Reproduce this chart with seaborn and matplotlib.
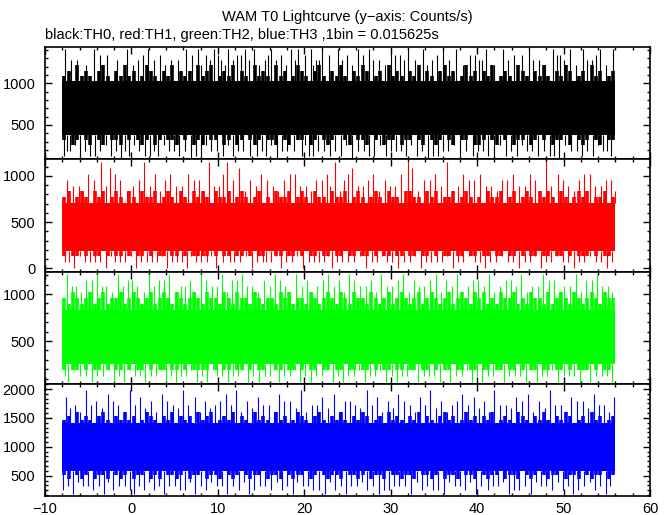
import pandas as pd
import matplotlib
matplotlib.use("Agg")
import matplotlib.pyplot as plt
import seaborn as sns
from matplotlib.ticker import MultipleLocator, AutoMinorLocator

# WAM T0 lightcurve, values are counts per bin (1 bin = 1/64 s)
bin_size = 0.015625
t_start = -8.0
step = 0.5  # dense band edges are listed every 0.5 s

# TH0 (black)
th0_hi = [17, 18, 16, 19, 17, 18, 17, 16, 18, 19, 17, 16, 18, 17, 19, 17,
          18, 16, 17, 19, 18, 17, 16, 18, 17, 19, 16, 18, 17, 18, 16, 19,
          17, 18, 19, 16, 17, 18, 17, 19, 16, 18, 17, 16, 19, 17, 18, 17,
          16, 19, 17, 18, 16, 17, 19, 18, 17, 16, 18, 19, 17, 16, 18, 17,
          19, 17, 16, 18, 17, 19, 18, 16, 17, 18, 16, 19, 17, 18, 17, 16,
          18, 17, 19, 16, 18, 17, 16, 18, 19, 17, 18, 16, 17, 19, 17, 18,
          16, 18, 17, 19, 16, 17, 18, 17, 16, 19, 18, 17, 16, 18, 17, 19,
          17, 16, 18, 17, 19, 18, 16, 17, 18, 16, 19, 17, 18, 16, 17, 18]
th0_lo = [5, 6, 4, 5, 6, 5, 4, 6, 5, 4, 6, 5, 5, 4, 6, 5,
          6, 5, 4, 5, 6, 4, 5, 6, 5, 5, 4, 6, 5, 6, 4, 5,
          4, 6, 5, 5, 6, 4, 5, 6, 4, 5, 6, 5, 4, 5, 6, 5,
          5, 4, 6, 5, 4, 6, 5, 5, 6, 4, 5, 6, 5, 4, 5, 6,
          6, 5, 4, 6, 5, 5, 4, 6, 5, 6, 4, 5, 5, 6, 4, 5,
          5, 6, 5, 4, 6, 5, 4, 5, 6, 5, 4, 6, 5, 5, 6, 4,
          4, 5, 6, 5, 4, 6, 5, 6, 4, 5, 5, 6, 4, 5, 6, 5,
          6, 4, 5, 5, 6, 4, 6, 5, 4, 5, 6, 5, 4, 6, 5, 5]
th0_up_t = [-7.65, -6.3, -4.35, -2.8, -0.5, 0.8, 1.9, 3.3, 4.6, 6.35, 7.7, 8.6, 9.55,
            10.4, 11.2, 12.2, 13.1, 14.2, 15.4, 16.2, 17.3, 18.5, 19.3, 20.8, 21.3, 22.0,
            23.9, 24.9, 26.2, 27.5, 28.6, 30.0, 31.1, 32.0, 33.7, 34.8, 36.0, 37.6, 39.2,
            40.2, 41.0, 43.0, 44.3, 46.0, 47.1, 48.8, 49.6, 50.7, 52.2, 53.3, 54.2, 55.7,
            -7.0, -5.3, -3.6, -1.7, 0.2, 1.3, 2.6, 3.9, 5.4, 7.0, 8.1, 9.1, 10.0,
            10.8, 11.7, 12.7, 13.6, 14.8, 15.8, 16.7, 17.9, 18.9, 20.1, 21.0, 21.7, 22.9,
            24.4, 25.5, 26.8, 28.0, 29.3, 30.5, 31.5, 32.8, 34.2, 35.4, 36.8, 38.4, 39.7,
            40.6, 42.0, 43.6, 45.2, 46.5, 47.9, 49.2, 50.1, 51.4, 52.7, 53.8, 54.9]
th0_up = [22, 20, 22, 21, 22, 20, 22, 21, 20, 22, 22, 21, 22,
          20, 22, 21, 22, 22, 20, 22, 21, 22, 22, 22, 20, 22,
          22, 21, 22, 22, 20, 22, 21, 22, 22, 20, 22, 22, 21,
          20, 22, 22, 21, 22, 20, 22, 21, 22, 22, 20, 22, 22,
          20, 19, 21, 20, 19, 21, 20, 19, 20, 21, 19, 20, 21,
          19, 20, 21, 20, 19, 21, 20, 19, 20, 21, 19, 20, 21,
          20, 19, 21, 20, 19, 21, 20, 20, 19, 21, 20, 19, 21,
          20, 19, 20, 21, 20, 19, 21, 20, 19, 20, 21, 19]
th0_dn_t = [-7.8, -7.1, -5.9, -4.8, -3.6, -2.4, -1.2, -0.3, 0.9, 2.2, 3.1, 4.4, 5.5,
            6.9, 8.1, 9.2, 10.6, 11.8, 12.9, 14.5, 15.6, 16.8, 18.0, 19.7, 20.5, 21.6,
            23.0, 24.2, 25.5, 26.9, 28.1, 29.4, 30.6, 31.8, 33.0, 34.3, 35.5, 36.6, 38.0,
            39.5, 40.7, 41.9, 43.3, 44.6, 45.8, 47.0, 48.4, 49.5, 50.9, 52.1, 53.4, 54.6, 55.5,
            -7.45, -6.5, -5.35, -4.2, -3.0, -1.8, -0.75, 0.3, 1.55, 2.65, 3.75, 4.95, 6.2,
            7.5, 8.65, 9.9, 11.2, 12.35, 13.7, 15.05, 16.2, 17.4, 18.85, 20.1, 21.05, 22.3,
            23.6, 24.85, 26.2, 27.5, 28.75, 30.0, 31.2, 32.4, 33.65, 34.9, 36.05, 37.3, 38.75,
            40.1, 41.3, 42.6, 43.95, 45.2, 46.4, 47.7, 48.95, 50.2, 51.5, 52.75, 54.0, 55.05]
th0_dn = [2, 3, 2, 2, 3, 2, 1, 2, 3, 2, 2, 3, 2, 1, 2, 3, 2, 2, 3, 2,
          2, 1, 3, 2, 2, 3, 2, 2, 1, 3, 2, 2, 3, 2, 2, 1, 2, 3, 2, 2,
          3, 1, 2, 2, 3, 2, 2, 1, 3, 2, 2, 3, 2,
          3, 4, 3, 2, 4, 3, 3, 4, 2, 3, 4, 3, 3, 2, 4, 3, 4, 3, 2, 3,
          4, 3, 3, 4, 2, 3, 3, 4, 3, 2, 4, 3, 3, 4, 3, 2, 3, 4, 3, 3,
          2, 4, 3, 4, 3, 3, 2, 4, 3, 3, 4, 3]

# TH1 (red)
th1_hi = [12, 13, 11, 12, 13, 12, 11, 13, 12, 13, 11, 12, 13, 12, 11, 13,
          12, 11, 13, 12, 12, 13, 11, 12, 13, 12, 11, 13, 12, 11, 13, 12,
          13, 12, 11, 13, 12, 12, 13, 11, 12, 13, 12, 11, 12, 13, 11, 12,
          11, 13, 12, 12, 13, 11, 12, 13, 12, 11, 13, 12, 12, 11, 13, 12,
          12, 13, 11, 12, 13, 12, 11, 12, 13, 12, 11, 13, 12, 12, 11, 13,
          13, 12, 12, 11, 13, 12, 13, 11, 12, 12, 13, 11, 12, 13, 12, 11,
          12, 11, 13, 12, 12, 13, 11, 12, 13, 11, 12, 13, 12, 11, 13, 12,
          13, 12, 11, 13, 12, 11, 12, 13, 12, 13, 11, 12, 12, 13, 11, 12]
th1_lo = [2, 3, 2, 2, 3, 2, 3, 2, 2, 3, 2, 3, 2, 2, 3, 2,
          3, 2, 2, 3, 2, 3, 2, 2, 3, 2, 2, 3, 2, 3, 2, 2,
          2, 2, 3, 2, 3, 2, 2, 3, 2, 2, 3, 2, 3, 2, 2, 3,
          3, 2, 2, 3, 2, 2, 3, 2, 3, 2, 2, 3, 2, 2, 3, 2,
          2, 3, 2, 2, 3, 2, 2, 3, 2, 3, 2, 2, 3, 2, 2, 3,
          2, 2, 3, 2, 2, 3, 2, 3, 2, 2, 3, 2, 2, 3, 2, 2,
          3, 2, 2, 3, 2, 2, 3, 2, 2, 3, 2, 3, 2, 2, 3, 2,
          2, 3, 2, 2, 3, 2, 3, 2, 2, 2, 3, 2, 3, 2, 2, 3]
th1_up_t = [-7.4, -6.1, -5.0, -3.5, -2.5, -1.3, 0.2, 1.5, 2.7, 3.9, 5.2, 6.6, 7.8,
            9.0, 10.1, 11.0, 12.5, 13.7, 15.0, 16.4, 17.6, 18.9, 20.2, 21.4, 22.6, 23.5,
            24.6, 25.5, 26.8, 28.0, 29.3, 30.5, 32.0, 32.5, 33.8, 35.1, 36.5, 37.8, 39.0,
            40.3, 41.6, 42.9, 44.2, 45.5, 46.7, 48.0, 49.3, 50.5, 51.8, 53.0, 54.3, 55.5,
            -6.8, -5.6, -4.3, -3.0, -1.9, -0.5, 0.9, 2.1, 3.3, 4.5, 5.9, 7.2, 8.4,
            9.5, 10.6, 11.8, 13.1, 14.4, 15.7, 17.0, 18.3, 19.5, 20.8, 22.0, 23.0, 24.1,
            25.1, 26.2, 27.4, 28.6, 29.9, 31.2, 33.2, 34.5, 35.8, 37.2, 38.4, 39.6, 41.0,
            42.3, 43.5, 44.8, 46.1, 47.3, 48.6, 49.9, 51.2, 52.4, 53.6, 54.9, 55.9]
th1_up = [15, 14, 16, 18, 17, 15, 14, 18, 16, 15, 14, 16, 15, 18, 14, 18, 17, 15, 16, 14,
          15, 16, 14, 15, 16, 18, 15, 17, 14, 16, 15, 14, 18, 17, 15, 16, 18, 14, 15, 16,
          14, 15, 16, 14, 15, 18, 16, 14, 15, 16, 14, 15,
          14, 13, 15, 14, 16, 13, 15, 14, 13, 16, 14, 15, 13, 14, 16, 15, 13, 14, 15, 13,
          16, 14, 13, 15, 14, 13, 16, 14, 15, 13, 14, 16, 13, 15, 14, 13, 16, 15, 14, 13,
          15, 14, 16, 13, 14, 15, 13, 16, 14, 15, 13]
th1_dn_t = [-7.7, -6.6, -5.4, -4.2, -3.0, -1.9, -0.7, 0.5, 1.8, 3.0, 4.1, 5.3, 6.4,
            7.5, 8.7, 9.8, 11.4, 12.6, 13.9, 15.2, 16.1, 17.3, 18.6, 19.9, 21.1, 22.3,
            23.2, 24.4, 25.8, 27.1, 28.4, 29.6, 30.8, 32.2, 33.5, 34.7, 35.9, 37.2, 38.4,
            39.7, 40.9, 42.2, 43.6, 44.9, 46.1, 47.4, 48.6, 49.9, 51.2, 52.4, 53.7, 55.0,
            -7.2, -6.0, -4.8, -3.6, -2.4, -1.3, -0.1, 1.1, 2.4, 3.5, 4.7, 5.9, 6.9,
            8.1, 9.2, 10.6, 11.9, 13.2, 14.5, 15.6, 16.7, 17.9, 19.2, 20.5, 21.7, 22.8,
            23.8, 25.1, 26.5, 27.8, 29.0, 30.2, 31.5, 32.8, 34.1, 35.3, 36.5, 37.8, 39.0,
            40.3, 41.5, 42.9, 44.2, 45.5, 46.7, 48.0, 49.2, 50.5, 51.8, 53.0, 54.3, 55.6]
th1_dn = [1, 0, 1, 1, 0, 1, 1, 0, 1, 1, 0, 1, 0, 1, 1, 0, 1, 1, 0, 1,
          1, 0, 1, 0, 1, 1, 0, 1, 1, 0, 1, 1, 0, 1, 0, 1, 1, 0, 1, 1,
          0, 1, 1, 0, 1, 0, 1, 1, 0, 1, 1, 0,
          1, 2, 1, 1, 2, 1, 2, 1, 1, 2, 1, 1, 2, 1, 2, 1, 1, 2, 1, 1,
          2, 1, 2, 1, 1, 2, 1, 1, 2, 1, 2, 1, 1, 2, 1, 1, 2, 1, 2, 1,
          1, 2, 1, 1, 2, 1, 2, 1, 1, 2, 1, 1]

# TH2 (green)
th2_hi = [15, 14, 16, 15, 14, 15, 16, 14, 15, 16, 14, 15, 15, 16, 14, 15,
          16, 15, 14, 15, 16, 14, 15, 16, 15, 14, 16, 15, 14, 15, 16, 15,
          14, 16, 15, 15, 14, 16, 15, 14, 16, 15, 15, 14, 16, 15, 14, 15,
          15, 14, 16, 15, 16, 14, 15, 15, 14, 16, 15, 14, 15, 16, 15, 14,
          16, 15, 14, 16, 15, 15, 14, 16, 15, 14, 15, 16, 14, 15, 16, 15,
          14, 15, 16, 14, 15, 16, 15, 14, 15, 16, 14, 15, 16, 15, 14, 16,
          15, 16, 14, 15, 14, 16, 15, 15, 16, 14, 15, 14, 16, 15, 15, 14,
          16, 14, 15, 16, 15, 14, 16, 15, 14, 15, 16, 15, 14, 16, 15, 15]
th2_lo = [3, 4, 3, 3, 4, 3, 4, 3, 3, 4, 3, 4, 3, 3, 4, 3,
          4, 3, 3, 4, 3, 4, 3, 3, 4, 3, 3, 4, 3, 4, 3, 3,
          3, 3, 4, 3, 4, 3, 3, 4, 3, 3, 4, 3, 4, 3, 3, 4,
          4, 3, 3, 4, 3, 3, 4, 3, 4, 3, 3, 4, 3, 3, 4, 3,
          3, 4, 3, 3, 4, 3, 3, 4, 3, 4, 3, 3, 4, 3, 3, 4,
          3, 3, 4, 3, 3, 4, 3, 4, 3, 3, 4, 3, 3, 4, 3, 3,
          4, 3, 3, 4, 3, 3, 4, 3, 3, 4, 3, 4, 3, 3, 4, 3,
          3, 4, 3, 3, 4, 3, 4, 3, 3, 3, 4, 3, 4, 3, 3, 4]
th2_up_t = [-7.5, -6.4, -5.2, -4.0, -2.9, -1.6, -0.4, 0.7, 2.0, 3.2, 4.3, 5.7, 6.8,
            8.0, 9.3, 10.5, 11.6, 12.8, 14.0, 15.3, 16.6, 17.8, 19.0, 20.3, 21.5, 22.8,
            24.0, 25.2, 26.4, 27.7, 28.9, 30.2, 31.4, 32.7, 33.9, 35.2, 36.4, 37.7, 38.9,
            40.1, 41.4, 42.6, 43.9, 45.1, 46.4, 47.6, 48.9, 50.1, 51.4, 52.6, 53.9, 55.1,
            -6.9, -5.8, -4.6, -3.4, -2.2, -1.0, 0.1, 1.4, 2.6, 3.8, 5.0, 6.2, 7.4,
            8.6, 9.9, 11.1, 12.2, 13.4, 14.7, 16.0, 17.2, 18.4, 19.7, 20.9, 22.2, 23.4,
            24.6, 25.8, 27.1, 28.3, 29.6, 30.8, 32.1, 33.3, 34.6, 35.8, 37.1, 38.3, 39.5,
            40.8, 42.0, 43.3, 44.5, 45.8, 47.0, 48.3, 49.5, 50.8, 52.0, 53.3, 54.5, 55.6]
th2_up = [19, 17, 18, 19, 17, 19, 18, 17, 19, 18, 19, 17, 18, 19, 17, 19, 18, 19, 17, 18,
          19, 17, 19, 18, 17, 19, 18, 19, 17, 18, 19, 17, 19, 18, 17, 19, 18, 19, 17, 18,
          19, 17, 18, 19, 17, 19, 18, 17, 19, 18, 19, 17,
          17, 16, 18, 17, 16, 17, 18, 16, 17, 18, 16, 17, 16, 18, 17, 16, 18, 17, 16, 17,
          18, 16, 17, 16, 18, 17, 16, 18, 17, 16, 17, 18, 16, 17, 18, 16, 17, 16, 18, 17,
          16, 18, 17, 16, 17, 18, 16, 17, 16, 18, 17, 16]
th2_dn_t = [-7.3, -6.0, -4.6, -3.3, -2.0, -0.9, 0.4, 1.6, 2.9, 4.0, 5.1, 6.3, 7.6,
            8.8, 9.9, 11.2, 12.3, 13.5, 14.8, 16.0, 17.1, 18.3, 19.5, 20.8, 22.0, 23.3,
            24.5, 25.7, 27.0, 28.2, 29.5, 30.7, 31.9, 33.2, 34.4, 35.7, 36.9, 38.2, 39.4,
            40.6, 41.8, 43.1, 44.4, 45.6, 46.9, 48.1, 49.4, 50.6, 51.9, 53.1, 54.4, 55.6,
            -7.7, -6.6, -5.3, -4.0, -2.6, -1.4, -0.2, 1.0, 2.3, 3.4, 4.6, 5.7, 6.9,
            8.2, 9.4, 10.5, 11.7, 12.9, 14.1, 15.4, 16.5, 17.7, 18.9, 20.1, 21.4, 22.6,
            23.9, 25.1, 26.3, 27.6, 28.8, 30.1, 31.3, 32.5, 33.8, 35.0, 36.3, 37.5, 38.8,
            40.0, 41.2, 42.5, 43.7, 45.0, 46.2, 47.5, 48.7, 50.0, 51.2, 52.5, 53.7, 55.0]
th2_dn = [1, 2, 1, 2, 1, 1, 2, 1, 2, 1, 1, 2, 1, 1, 2, 1, 2, 1, 1, 2,
          1, 2, 1, 1, 2, 1, 1, 2, 1, 2, 1, 1, 2, 1, 2, 1, 1, 2, 1, 1,
          2, 1, 2, 1, 1, 2, 1, 2, 1, 1, 2, 1,
          2, 3, 2, 2, 3, 2, 3, 2, 2, 3, 2, 2, 3, 2, 3, 2, 2, 3, 2, 2,
          3, 2, 3, 2, 2, 3, 2, 2, 3, 2, 3, 2, 2, 3, 2, 2, 3, 2, 3, 2,
          2, 3, 2, 2, 3, 2, 3, 2, 2, 3, 2, 2]

# TH3 (blue)
th3_hi = [23, 24, 22, 25, 23, 24, 23, 22, 24, 25, 23, 22, 24, 23, 25, 23,
          24, 22, 23, 25, 24, 23, 22, 24, 23, 25, 22, 24, 23, 24, 22, 25,
          23, 24, 25, 22, 23, 24, 23, 25, 22, 24, 23, 22, 25, 23, 24, 23,
          22, 25, 23, 24, 22, 23, 25, 24, 23, 22, 24, 25, 23, 22, 24, 23,
          25, 23, 22, 24, 23, 25, 24, 22, 23, 24, 22, 25, 23, 24, 23, 22,
          24, 23, 25, 22, 24, 23, 22, 24, 25, 23, 24, 22, 23, 25, 23, 24,
          22, 24, 23, 25, 22, 23, 24, 23, 22, 25, 24, 23, 22, 24, 23, 25,
          23, 22, 24, 23, 25, 24, 22, 23, 24, 22, 25, 23, 24, 22, 23, 24]
th3_lo = [8, 7, 9, 8, 7, 8, 9, 7, 8, 8, 7, 9, 8, 7, 8, 9,
          7, 8, 8, 9, 7, 8, 7, 9, 8, 8, 7, 8, 9, 7, 8, 8,
          9, 7, 8, 8, 7, 9, 8, 7, 8, 9, 8, 7, 8, 8, 9, 7,
          8, 8, 7, 9, 8, 7, 8, 8, 9, 7, 8, 9, 8, 7, 8, 8,
          7, 9, 8, 8, 7, 8, 9, 7, 8, 8, 7, 9, 8, 8, 7, 8,
          8, 7, 9, 8, 8, 7, 8, 9, 7, 8, 8, 7, 9, 8, 8, 7,
          9, 8, 7, 8, 8, 9, 7, 8, 8, 7, 9, 8, 7, 8, 9, 8,
          7, 8, 8, 9, 7, 8, 8, 7, 9, 8, 7, 8, 8, 9, 7, 8]
th3_up_t = [-7.6, -6.5, -5.3, -4.1, -2.7, -1.5, -0.2, 1.0, 2.3, 3.5, 4.8, 6.0, 7.3,
            8.5, 9.7, 10.9, 12.1, 13.4, 14.6, 15.9, 17.1, 18.4, 19.6, 20.9, 22.1, 23.4,
            24.7, 25.9, 27.2, 28.4, 29.7, 30.9, 32.2, 33.4, 34.6, 35.8, 37.1, 38.3, 39.6,
            40.8, 42.0, 43.3, 44.5, 45.9, 47.2, 48.4, 49.7, 50.9, 52.2, 53.5, 54.7, 55.8,
            -7.1, -5.9, -4.7, -3.4, -2.1, -0.9, 0.4, 1.6, 2.9, 4.1, 5.4, 6.6, 7.9,
            9.1, 10.3, 11.5, 12.7, 14.0, 15.2, 16.5, 17.7, 19.0, 20.2, 21.5, 22.7, 24.0,
            25.3, 26.5, 27.8, 29.0, 30.3, 31.5, 32.8, 34.0, 35.2, 36.5, 37.7, 38.9, 40.2,
            41.4, 42.6, 43.9, 45.2, 46.5, 47.8, 49.0, 50.3, 51.5, 52.8, 54.1, 55.3]
th3_up = [29, 27, 31, 28, 30, 27, 31, 29, 28, 30, 27, 31, 29, 28, 27, 30, 31, 28, 29, 27,
          30, 28, 31, 27, 29, 30, 28, 27, 31, 29, 28, 30, 27, 29, 31, 28, 27, 30, 29, 28,
          31, 27, 29, 30, 28, 31, 27, 29, 28, 30, 27, 29,
          26, 25, 27, 26, 28, 25, 27, 26, 25, 28, 26, 27, 25, 26, 28, 27, 25, 26, 27, 25,
          28, 26, 25, 27, 26, 25, 28, 26, 27, 25, 26, 28, 25, 27, 26, 25, 28, 27, 26, 25,
          27, 26, 28, 25, 26, 27, 25, 28, 26, 27, 25]
th3_dn_t = [-7.9, -6.8, -5.6, -4.4, -3.2, -2.1, -0.8, 0.3, 1.4, 2.6, 3.8, 5.0, 6.2,
            7.4, 8.6, 9.9, 11.1, 12.4, 13.6, 14.9, 16.2, 17.4, 18.7, 19.8, 21.0, 22.4,
            23.6, 24.8, 26.1, 27.3, 28.6, 29.8, 31.0, 32.4, 33.6, 34.9, 36.2, 37.4, 38.6,
            39.9, 41.2, 42.4, 43.7, 44.9, 46.2, 47.4, 48.7, 49.9, 51.1, 52.4, 53.6, 54.9,
            -7.3, -6.2, -5.0, -3.8, -2.7, -1.4, -0.2, 0.9, 2.0, 3.2, 4.4, 5.6, 6.8,
            8.0, 9.2, 10.5, 11.7, 13.0, 14.2, 15.5, 16.8, 18.0, 19.2, 20.4, 21.7, 23.0,
            24.2, 25.4, 26.7, 27.9, 29.2, 30.4, 31.7, 33.0, 34.2, 35.5, 36.8, 38.0, 39.2,
            40.5, 41.8, 43.0, 44.3, 45.5, 46.8, 48.0, 49.3, 50.5, 51.7, 53.0, 54.2, 55.4]
th3_dn = [4, 3, 5, 4, 3, 4, 5, 3, 4, 4, 3, 5, 4, 3, 4, 5, 3, 4, 3, 5,
          4, 4, 3, 5, 4, 3, 4, 3, 5, 4, 3, 4, 5, 3, 4, 4, 3, 5, 4, 3,
          4, 5, 3, 4, 3, 5, 4, 4, 3, 5, 4, 3,
          5, 6, 5, 5, 6, 5, 4, 5, 6, 5, 5, 4, 6, 5, 6, 5, 5, 6, 4, 5,
          6, 5, 6, 5, 4, 6, 5, 5, 6, 5, 4, 5, 5, 6, 5, 4, 6, 5, 6, 5,
          5, 6, 4, 5, 6, 5, 6, 5, 4, 6, 5, 5]

channels = ["TH0", "TH1", "TH2", "TH3"]
band_hi = [th0_hi, th1_hi, th2_hi, th3_hi]
band_lo = [th0_lo, th1_lo, th2_lo, th3_lo]
up_t = [th0_up_t, th1_up_t, th2_up_t, th3_up_t]
up_v = [th0_up, th1_up, th2_up, th3_up]
dn_t = [th0_dn_t, th1_dn_t, th2_dn_t, th3_dn_t]
dn_v = [th0_dn, th1_dn, th2_dn, th3_dn]
# range that is always filled
core_lo = [6, 3, 4, 9]
core_hi = [16, 11, 13, 22]

colors = ["black", "#ff0000", "#00ff00", "#0000ff"]
ylims = [(92, 1436), (-40, 1184), (43, 1234), (149, 2087)]
minor_div = [5, 5, 5, 6]

rows = []
for ch, hi_list, lo_list in zip(channels, band_hi, band_lo):
    for i, (hi, lo) in enumerate(zip(hi_list, lo_list)):
        t = t_start + step * (i + 0.5)
        rows.append((ch, i, t, lo / bin_size))
        rows.append((ch, i, t, hi / bin_size))
df = pd.DataFrame(rows, columns=["channel", "seg", "time", "rate"])

sns.set_style("ticks")
plt.rcParams["font.family"] = ["Liberation Sans", "DejaVu Sans"]
plt.rcParams["axes.edgecolor"] = "black"
plt.rcParams["text.color"] = "black"
plt.rcParams["xtick.color"] = "black"
plt.rcParams["ytick.color"] = "black"

fig = plt.figure(figsize=(6.72, 5.15), dpi=100)
W, H = 672, 515
left, right = 45, 650
edges = [47, 159, 272, 384, 496]

for k, ch in enumerate(channels):
    top_px, bot_px = edges[k], edges[k + 1]
    ax = fig.add_axes([left / W, 1 - bot_px / H, (right - left) / W, (bot_px - top_px) / H])
    c = colors[k]
    t_end = t_start + step * len(band_hi[k])
    ax.fill_between([t_start, t_end], core_lo[k] / bin_size, core_hi[k] / bin_size,
                    color=c, lw=0)
    sns.lineplot(data=df[df["channel"] == ch], x="time", y="rate", units="seg",
                 estimator=None, color=c, lw=2.6, ax=ax, legend=False,
                 solid_capstyle="butt")
    ax.vlines(up_t[k], core_hi[k] / bin_size, [v / bin_size for v in up_v[k]],
              color=c, lw=0.8)
    ax.vlines(dn_t[k], [v / bin_size for v in dn_v[k]], core_lo[k] / bin_size,
              color=c, lw=0.8)
    ax.set_xlim(-10, 60)
    ax.set_ylim(*ylims[k])
    ax.set_xlabel("")
    ax.set_ylabel("")
    ax.xaxis.set_major_locator(MultipleLocator(10))
    ax.xaxis.set_minor_locator(MultipleLocator(2))
    ax.yaxis.set_major_locator(MultipleLocator(500))
    ax.yaxis.set_minor_locator(AutoMinorLocator(minor_div[k]))
    ax.tick_params(which="both", direction="in", top=True, right=True,
                   labelsize=10.5, width=1.0)
    ax.tick_params(which="major", length=5, pad=7)
    ax.tick_params(which="minor", length=2.5)
    ax.tick_params(axis="x", pad=4, labelbottom=(k == 3))
    for s in ax.spines.values():
        s.set_linewidth(1.2)
        s.set_color("black")

fig.text((left + right) / 2 / W, 1 - 17 / H, "WAM T0 Lightcurve (y\u2212axis: Counts/s)",
         ha="center", va="center", fontsize=10.5)
fig.text(left / W, 1 - 35 / H, "black:TH0, red:TH1, green:TH2, blue:TH3 ,1bin = 0.015625s",
         ha="left", va="center", fontsize=10.5)

fig.savefig("out.png", dpi=100)
